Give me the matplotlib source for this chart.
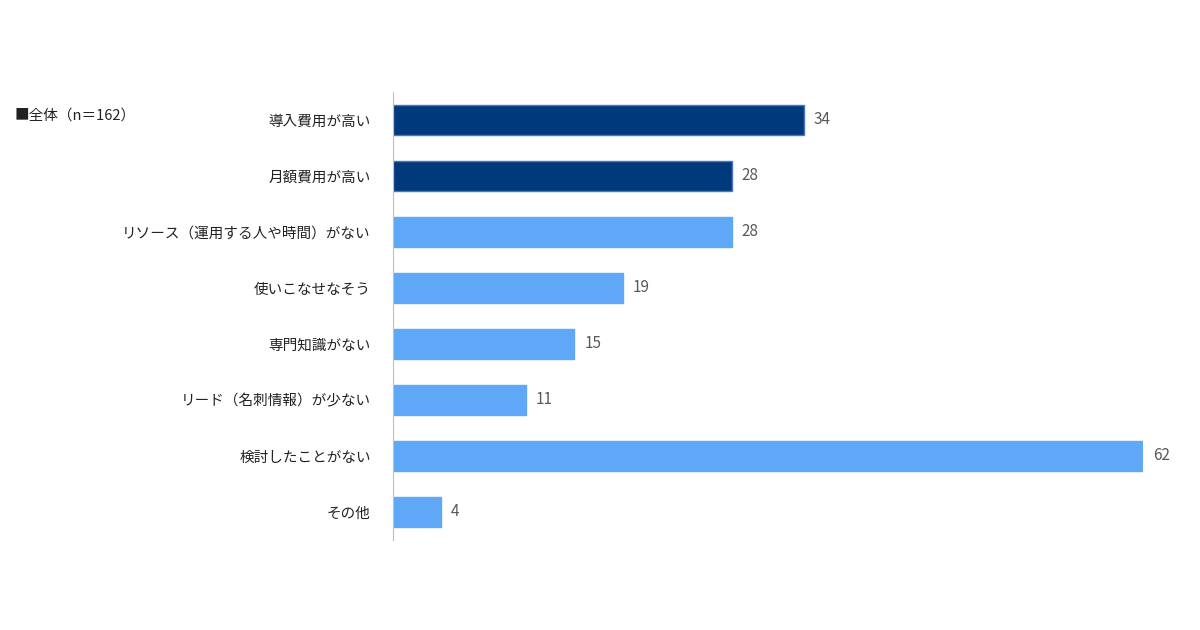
import matplotlib
matplotlib.use("Agg")
import matplotlib.pyplot as plt

plt.rcParams['font.family'] = ['Noto Sans CJK JP', 'DejaVu Sans']

categories = ["導入費用が高い", "月額費用が高い", "リソース（運用する人や時間）がない", "使いこなせなそう",
              "専門知識がない", "リード（名刺情報）が少ない", "検討したことがない", "その他"]
values = [34, 28, 28, 19, 15, 11, 62, 4]
colors = ["#003A7D", "#003A7D"] + ["#5FA8F8"] * 6
legend_label = "■全体（n＝162）"

fig = plt.figure(figsize=(12, 6.3), dpi=100)
ax = fig.add_axes([393/1200, 1-540/630, 750/1200, 448/630])
y = range(len(categories))
ax.barh(y, values, height=0.54, color=colors, edgecolor=["#4A78C0"]*2 + ["#5FA8F8"]*6, linewidth=1)
ax.set_xlim(0, 62)
ax.set_ylim(len(categories) - 0.5, -0.5)
ax.set_yticks(list(y))
ax.set_yticklabels(categories, fontsize=10.5, color="#222222")
ax.tick_params(axis='y', length=0, pad=16)
ax.set_xticks([])
for s in ["top", "right", "bottom"]:
    ax.spines[s].set_visible(False)
ax.spines["left"].set_color("#BFBFBF")
for i, v in enumerate(values):
    ax.text(v + 0.8, i, str(v), va="center", ha="left", fontsize=11, color="#595959")
ax.patch.set_alpha(0)
fig.text(15/1200, 1-116/630, legend_label, fontsize=10.5, va="center", ha="left", color="#222222")
fig.savefig("out.png", dpi=100)
